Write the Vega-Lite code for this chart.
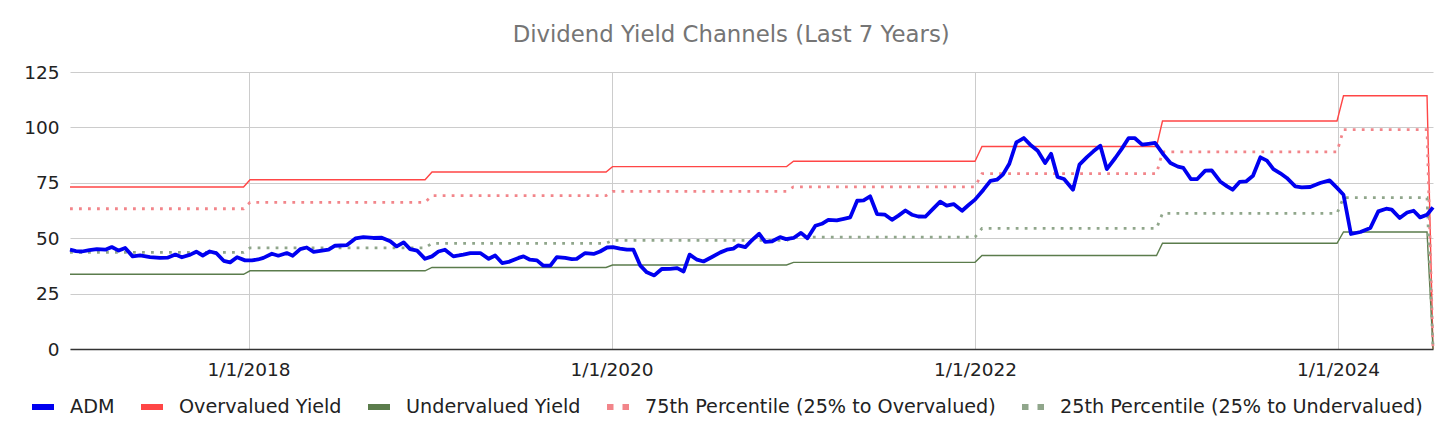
{
  "$schema": "https://vega.github.io/schema/vega-lite/v6.json",
  "width": 1363,
  "height": 277,
  "autosize": {"type": "none"},
  "padding": {"left": 70, "top": 72, "right": 23, "bottom": 91},
  "background": "white",
  "title": {
    "text": "Dividend Yield Channels (Last 7 Years)",
    "font": "DejaVu Sans",
    "fontSize": 22.8,
    "fontWeight": "normal",
    "color": "#757575",
    "anchor": "middle",
    "frame": "bounds",
    "offset": 16
  },
  "datasets": {
    "adm": [
      {"date": "2017-01-07", "ADM": 44.8},
      {"date": "2017-01-19", "ADM": 44.2},
      {"date": "2017-01-31", "ADM": 44.0},
      {"date": "2017-02-15", "ADM": 44.6},
      {"date": "2017-03-02", "ADM": 45.1},
      {"date": "2017-03-19", "ADM": 44.8},
      {"date": "2017-04-01", "ADM": 46.0},
      {"date": "2017-04-15", "ADM": 44.4},
      {"date": "2017-04-28", "ADM": 45.6},
      {"date": "2017-05-13", "ADM": 41.8},
      {"date": "2017-05-28", "ADM": 42.2},
      {"date": "2017-06-17", "ADM": 41.5},
      {"date": "2017-07-07", "ADM": 41.1},
      {"date": "2017-07-22", "ADM": 41.2},
      {"date": "2017-08-07", "ADM": 42.6},
      {"date": "2017-08-20", "ADM": 41.4},
      {"date": "2017-09-06", "ADM": 42.6},
      {"date": "2017-09-18", "ADM": 43.9},
      {"date": "2017-10-01", "ADM": 42.2},
      {"date": "2017-10-15", "ADM": 44.0},
      {"date": "2017-10-28", "ADM": 43.3},
      {"date": "2017-11-12", "ADM": 39.8},
      {"date": "2017-11-25", "ADM": 39.1},
      {"date": "2017-12-09", "ADM": 41.4},
      {"date": "2017-12-25", "ADM": 40.0},
      {"date": "2018-01-08", "ADM": 40.0},
      {"date": "2018-01-20", "ADM": 40.4},
      {"date": "2018-01-31", "ADM": 41.1},
      {"date": "2018-02-17", "ADM": 43.0},
      {"date": "2018-03-02", "ADM": 42.1},
      {"date": "2018-03-19", "ADM": 43.3},
      {"date": "2018-03-31", "ADM": 42.1},
      {"date": "2018-04-15", "ADM": 45.1},
      {"date": "2018-04-28", "ADM": 45.8},
      {"date": "2018-05-12", "ADM": 43.8},
      {"date": "2018-06-01", "ADM": 44.5},
      {"date": "2018-06-11", "ADM": 44.8},
      {"date": "2018-06-24", "ADM": 46.6},
      {"date": "2018-07-18", "ADM": 46.9},
      {"date": "2018-08-04", "ADM": 49.9},
      {"date": "2018-08-20", "ADM": 50.5},
      {"date": "2018-09-09", "ADM": 50.1},
      {"date": "2018-09-26", "ADM": 50.2},
      {"date": "2018-10-13", "ADM": 48.6},
      {"date": "2018-10-26", "ADM": 46.3},
      {"date": "2018-11-09", "ADM": 48.1},
      {"date": "2018-11-22", "ADM": 45.1},
      {"date": "2018-12-06", "ADM": 44.4},
      {"date": "2018-12-22", "ADM": 40.7},
      {"date": "2019-01-05", "ADM": 41.8},
      {"date": "2019-01-18", "ADM": 44.0},
      {"date": "2019-01-31", "ADM": 44.8},
      {"date": "2019-02-17", "ADM": 41.8},
      {"date": "2019-02-28", "ADM": 42.2},
      {"date": "2019-03-09", "ADM": 42.6},
      {"date": "2019-03-23", "ADM": 43.3},
      {"date": "2019-04-12", "ADM": 43.3},
      {"date": "2019-04-29", "ADM": 40.7},
      {"date": "2019-05-12", "ADM": 42.2},
      {"date": "2019-05-26", "ADM": 38.8},
      {"date": "2019-06-08", "ADM": 39.3},
      {"date": "2019-06-28", "ADM": 41.1},
      {"date": "2019-07-08", "ADM": 41.8},
      {"date": "2019-07-21", "ADM": 40.3},
      {"date": "2019-08-04", "ADM": 40.0},
      {"date": "2019-08-17", "ADM": 37.6},
      {"date": "2019-08-31", "ADM": 37.6},
      {"date": "2019-09-13", "ADM": 41.5},
      {"date": "2019-09-30", "ADM": 41.1},
      {"date": "2019-10-13", "ADM": 40.6},
      {"date": "2019-10-23", "ADM": 40.7},
      {"date": "2019-11-09", "ADM": 43.3},
      {"date": "2019-11-26", "ADM": 42.9},
      {"date": "2019-12-09", "ADM": 44.0},
      {"date": "2019-12-23", "ADM": 45.8},
      {"date": "2020-01-04", "ADM": 46.0},
      {"date": "2020-01-18", "ADM": 45.3},
      {"date": "2020-02-01", "ADM": 44.8},
      {"date": "2020-02-14", "ADM": 44.8},
      {"date": "2020-02-28", "ADM": 37.6},
      {"date": "2020-03-12", "ADM": 34.6},
      {"date": "2020-03-27", "ADM": 33.2},
      {"date": "2020-04-11", "ADM": 36.1},
      {"date": "2020-04-28", "ADM": 36.2},
      {"date": "2020-05-12", "ADM": 36.5},
      {"date": "2020-05-25", "ADM": 35.0},
      {"date": "2020-06-06", "ADM": 42.6},
      {"date": "2020-06-21", "ADM": 40.3},
      {"date": "2020-07-04", "ADM": 39.5},
      {"date": "2020-07-21", "ADM": 41.5},
      {"date": "2020-08-07", "ADM": 43.6},
      {"date": "2020-08-20", "ADM": 44.8},
      {"date": "2020-09-02", "ADM": 45.3},
      {"date": "2020-09-12", "ADM": 46.8},
      {"date": "2020-09-26", "ADM": 46.0},
      {"date": "2020-10-09", "ADM": 49.0},
      {"date": "2020-10-24", "ADM": 52.0},
      {"date": "2020-11-05", "ADM": 48.3},
      {"date": "2020-11-19", "ADM": 48.6},
      {"date": "2020-12-05", "ADM": 50.5},
      {"date": "2020-12-17", "ADM": 49.6},
      {"date": "2021-01-01", "ADM": 50.1},
      {"date": "2021-01-16", "ADM": 52.4},
      {"date": "2021-01-29", "ADM": 50.0},
      {"date": "2021-02-14", "ADM": 55.6},
      {"date": "2021-02-27", "ADM": 56.5},
      {"date": "2021-03-12", "ADM": 58.3},
      {"date": "2021-03-29", "ADM": 58.0},
      {"date": "2021-04-12", "ADM": 58.7},
      {"date": "2021-04-25", "ADM": 59.4},
      {"date": "2021-05-09", "ADM": 66.9},
      {"date": "2021-05-22", "ADM": 67.1},
      {"date": "2021-06-04", "ADM": 68.9},
      {"date": "2021-06-18", "ADM": 60.9},
      {"date": "2021-07-04", "ADM": 60.6},
      {"date": "2021-07-18", "ADM": 58.3},
      {"date": "2021-07-31", "ADM": 60.2},
      {"date": "2021-08-14", "ADM": 62.5},
      {"date": "2021-08-27", "ADM": 60.6},
      {"date": "2021-09-09", "ADM": 59.8},
      {"date": "2021-09-23", "ADM": 59.7},
      {"date": "2021-10-10", "ADM": 63.6},
      {"date": "2021-10-23", "ADM": 66.5},
      {"date": "2021-11-05", "ADM": 64.7},
      {"date": "2021-11-19", "ADM": 65.4},
      {"date": "2021-12-06", "ADM": 62.4},
      {"date": "2021-12-19", "ADM": 65.0},
      {"date": "2022-01-01", "ADM": 67.4},
      {"date": "2022-01-18", "ADM": 71.9},
      {"date": "2022-02-01", "ADM": 75.9},
      {"date": "2022-02-14", "ADM": 76.4},
      {"date": "2022-02-26", "ADM": 78.7},
      {"date": "2022-03-11", "ADM": 83.6},
      {"date": "2022-03-25", "ADM": 93.2},
      {"date": "2022-04-09", "ADM": 95.2},
      {"date": "2022-04-22", "ADM": 92.2},
      {"date": "2022-05-07", "ADM": 89.5},
      {"date": "2022-05-22", "ADM": 83.9},
      {"date": "2022-06-03", "ADM": 88.1},
      {"date": "2022-06-16", "ADM": 77.6},
      {"date": "2022-06-29", "ADM": 76.7},
      {"date": "2022-07-17", "ADM": 71.9},
      {"date": "2022-07-30", "ADM": 83.2},
      {"date": "2022-08-14", "ADM": 86.6},
      {"date": "2022-08-27", "ADM": 89.2},
      {"date": "2022-09-10", "ADM": 91.7},
      {"date": "2022-09-23", "ADM": 81.2},
      {"date": "2022-10-10", "ADM": 86.2},
      {"date": "2022-10-23", "ADM": 90.3},
      {"date": "2022-11-06", "ADM": 95.2},
      {"date": "2022-11-18", "ADM": 95.2},
      {"date": "2022-12-03", "ADM": 92.2},
      {"date": "2022-12-16", "ADM": 92.6},
      {"date": "2022-12-29", "ADM": 93.0},
      {"date": "2023-01-15", "ADM": 87.7},
      {"date": "2023-01-29", "ADM": 83.9},
      {"date": "2023-02-13", "ADM": 82.3},
      {"date": "2023-02-24", "ADM": 81.7},
      {"date": "2023-03-11", "ADM": 76.7},
      {"date": "2023-03-24", "ADM": 76.7},
      {"date": "2023-04-09", "ADM": 80.5},
      {"date": "2023-04-22", "ADM": 80.6},
      {"date": "2023-05-09", "ADM": 75.6},
      {"date": "2023-05-23", "ADM": 73.4},
      {"date": "2023-06-03", "ADM": 71.9},
      {"date": "2023-06-17", "ADM": 75.4},
      {"date": "2023-06-30", "ADM": 75.6},
      {"date": "2023-07-14", "ADM": 78.2},
      {"date": "2023-07-29", "ADM": 86.5},
      {"date": "2023-08-11", "ADM": 85.0},
      {"date": "2023-08-24", "ADM": 81.2},
      {"date": "2023-09-07", "ADM": 79.3},
      {"date": "2023-09-20", "ADM": 77.2},
      {"date": "2023-10-07", "ADM": 73.4},
      {"date": "2023-10-20", "ADM": 72.9},
      {"date": "2023-11-06", "ADM": 73.1},
      {"date": "2023-11-16", "ADM": 74.0},
      {"date": "2023-11-26", "ADM": 74.9},
      {"date": "2023-12-15", "ADM": 76.1},
      {"date": "2023-12-30", "ADM": 72.7},
      {"date": "2024-01-12", "ADM": 69.6},
      {"date": "2024-01-27", "ADM": 51.9},
      {"date": "2024-02-15", "ADM": 52.8},
      {"date": "2024-03-06", "ADM": 54.6},
      {"date": "2024-03-22", "ADM": 62.1},
      {"date": "2024-04-07", "ADM": 63.3},
      {"date": "2024-04-18", "ADM": 62.9},
      {"date": "2024-05-04", "ADM": 59.1},
      {"date": "2024-05-19", "ADM": 61.6},
      {"date": "2024-06-01", "ADM": 62.4},
      {"date": "2024-06-14", "ADM": 59.4},
      {"date": "2024-06-28", "ADM": 60.6},
      {"date": "2024-07-10", "ADM": 63.9}
    ],
    "channels": [
      {"date": "2017-01-07", "Overvalued Yield": 73.1, "Undervalued Yield": 33.7, "75th Percentile (25% to Overvalued)": 63.3, "25th Percentile (25% to Undervalued)": 43.6},
      {"date": "2017-12-22", "Overvalued Yield": 73.1, "Undervalued Yield": 33.7, "75th Percentile (25% to Overvalued)": 63.3, "25th Percentile (25% to Undervalued)": 43.6},
      {"date": "2018-01-04", "Overvalued Yield": 76.4, "Undervalued Yield": 35.3, "75th Percentile (25% to Overvalued)": 66.2, "25th Percentile (25% to Undervalued)": 45.6},
      {"date": "2018-12-22", "Overvalued Yield": 76.4, "Undervalued Yield": 35.3, "75th Percentile (25% to Overvalued)": 66.2, "25th Percentile (25% to Undervalued)": 45.6},
      {"date": "2019-01-05", "Overvalued Yield": 79.9, "Undervalued Yield": 36.8, "75th Percentile (25% to Overvalued)": 69.2, "25th Percentile (25% to Undervalued)": 47.7},
      {"date": "2019-12-21", "Overvalued Yield": 79.9, "Undervalued Yield": 36.8, "75th Percentile (25% to Overvalued)": 69.2, "25th Percentile (25% to Undervalued)": 47.7},
      {"date": "2020-01-03", "Overvalued Yield": 82.3, "Undervalued Yield": 37.9, "75th Percentile (25% to Overvalued)": 71.1, "25th Percentile (25% to Undervalued)": 49.0},
      {"date": "2020-12-18", "Overvalued Yield": 82.3, "Undervalued Yield": 37.9, "75th Percentile (25% to Overvalued)": 71.1, "25th Percentile (25% to Undervalued)": 49.0},
      {"date": "2021-01-01", "Overvalued Yield": 84.7, "Undervalued Yield": 39.1, "75th Percentile (25% to Overvalued)": 73.2, "25th Percentile (25% to Undervalued)": 50.5},
      {"date": "2022-01-01", "Overvalued Yield": 84.7, "Undervalued Yield": 39.1, "75th Percentile (25% to Overvalued)": 73.2, "25th Percentile (25% to Undervalued)": 50.5},
      {"date": "2022-01-15", "Overvalued Yield": 91.4, "Undervalued Yield": 42.2, "75th Percentile (25% to Overvalued)": 79.1, "25th Percentile (25% to Undervalued)": 54.4},
      {"date": "2023-01-01", "Overvalued Yield": 91.4, "Undervalued Yield": 42.2, "75th Percentile (25% to Overvalued)": 79.1, "25th Percentile (25% to Undervalued)": 54.4},
      {"date": "2023-01-13", "Overvalued Yield": 102.9, "Undervalued Yield": 47.7, "75th Percentile (25% to Overvalued)": 89.0, "25th Percentile (25% to Undervalued)": 61.2},
      {"date": "2023-12-30", "Overvalued Yield": 102.9, "Undervalued Yield": 47.7, "75th Percentile (25% to Overvalued)": 89.0, "25th Percentile (25% to Undervalued)": 61.2},
      {"date": "2024-01-12", "Overvalued Yield": 114.3, "Undervalued Yield": 52.8, "75th Percentile (25% to Overvalued)": 99.0, "25th Percentile (25% to Undervalued)": 68.3},
      {"date": "2024-06-28", "Overvalued Yield": 114.3, "Undervalued Yield": 52.8, "75th Percentile (25% to Overvalued)": 99.0, "25th Percentile (25% to Undervalued)": 68.3},
      {"date": "2024-07-10", "Overvalued Yield": 0, "Undervalued Yield": 0, "75th Percentile (25% to Overvalued)": 0, "25th Percentile (25% to Undervalued)": 0}
    ]
  },
  "encoding": {
    "x": {
      "field": "date",
      "type": "temporal",
      "scale": {
        "type": "utc",
        "domain": [
          {"year": 2017, "month": 1, "date": 7, "utc": true},
          {"year": 2024, "month": 7, "date": 10, "utc": true}
        ]
      },
      "axis": {
        "title": null,
        "values": [
          {"year": 2018, "month": 1, "date": 1, "utc": true},
          {"year": 2020, "month": 1, "date": 1, "utc": true},
          {"year": 2022, "month": 1, "date": 1, "utc": true},
          {"year": 2024, "month": 1, "date": 1, "utc": true}
        ],
        "labelExpr": "utcFormat(datum.value, '%-m/%-d/%Y')",
        "ticks": false,
        "domainColor": "#333333",
        "domainWidth": 1.7,
        "gridColor": "#cccccc",
        "labelPadding": 11
      }
    },
    "y": {
      "field": "value",
      "type": "quantitative",
      "scale": {"domain": [0, 125], "nice": false},
      "axis": {
        "title": null,
        "values": [0, 25, 50, 75, 100, 125],
        "ticks": false,
        "domain": false,
        "gridColor": "#cccccc",
        "labelPadding": 11
      }
    },
    "color": {
      "field": "series",
      "type": "nominal",
      "scale": {
        "domain": ["ADM", "Overvalued Yield", "Undervalued Yield", "75th Percentile (25% to Overvalued)", "25th Percentile (25% to Undervalued)"],
        "range": ["#0000f0", "#ff4646", "#5b7c4c", "#f2858a", "#90a68b"]
      },
      "legend": {
        "title": null,
        "orient": "none",
        "legendX": -41,
        "legendY": 321,
        "direction": "horizontal",
        "columns": 5,
        "symbolType": "stroke",
        "symbolSize": 484,
        "symbolStrokeWidth": 6,
        "labelOffset": 13,
        "columnPadding": 14,
        "padding": 0,
        "labelLimit": 600,
        "encode": {
          "symbols": {
            "update": {
              "strokeWidth": {"value": 6},
              "strokeDash": {"signal": "indexof(datum.value, 'Percentile') >= 0 ? [6.5, 9] : [1, 0]"}
            }
          }
        }
      }
    }
  },
  "layer": [
    {
      "data": {"name": "channels"},
      "transform": [
        {"fold": ["Overvalued Yield", "Undervalued Yield"], "as": ["series", "value"]}
      ],
      "mark": {"type": "line", "strokeWidth": 1.4}
    },
    {
      "data": {"name": "channels"},
      "transform": [
        {"fold": ["75th Percentile (25% to Overvalued)", "25th Percentile (25% to Undervalued)"], "as": ["series", "value"]}
      ],
      "mark": {"type": "line", "strokeWidth": 2.8, "strokeDash": [2.8, 6.2], "strokeCap": "butt"}
    },
    {
      "data": {"name": "adm"},
      "transform": [
        {"fold": ["ADM"], "as": ["series", "value"]}
      ],
      "mark": {"type": "line", "strokeWidth": 3.8, "strokeJoin": "round"}
    }
  ],
  "config": {
    "view": {"stroke": null},
    "font": "DejaVu Sans",
    "axis": {
      "labelFont": "DejaVu Sans",
      "labelFontSize": 18.5,
      "labelColor": "#222222"
    },
    "legend": {
      "labelFont": "DejaVu Sans",
      "labelFontSize": 19.2,
      "labelColor": "#222222"
    }
  }
}
